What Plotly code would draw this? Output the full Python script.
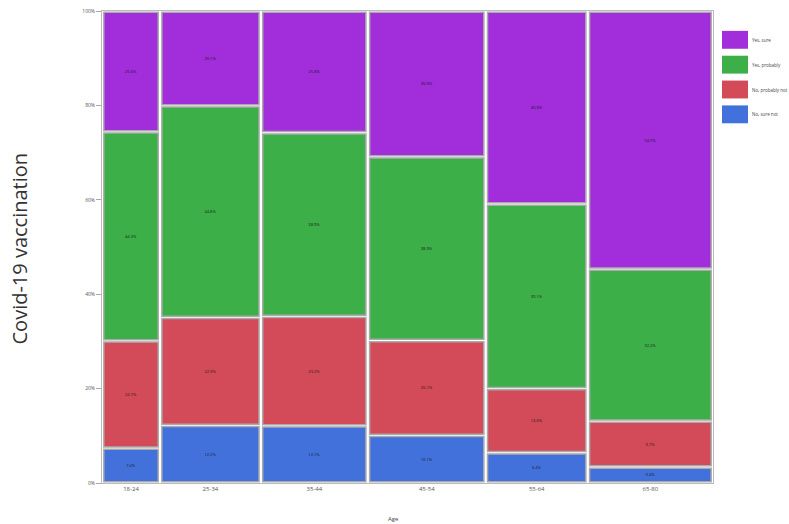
import plotly.graph_objects as go
import numpy as np

ages = ["18-24", "25-34", "35-44", "45-54", "55-64", "65-80"]
respondents = [95, 165, 175, 193, 167, 205]  # column widths (share of respondents)

series_names = ["No, sure not", "No, probably not", "Yes, probably", "Yes, sure"]
no_sure_not = [7.4, 12.2, 12.1, 10.1, 6.4, 3.4]
no_probably_not = [22.7, 22.9, 23.2, 20.1, 13.6, 9.7]
yes_probably = [44.3, 44.8, 38.9, 38.9, 39.1, 32.2]
yes_sure = [25.6, 20.1, 25.8, 30.9, 40.9, 54.7]
colors = ["#4371db", "#d34a58", "#3daf48", "#a12ddb"]

values = [no_sure_not, no_probably_not, yes_probably, yes_sure]

w = np.array(respondents, dtype=float)
total = w.sum()
widths = w / total * 100
lefts = np.concatenate([[0], np.cumsum(widths)[:-1]])
centers = lefts + widths / 2

W, H = 789, 524
L, R, T, B = 102, 76, 8, 41
PW = W - L - R
PH = H - T - B

fig = go.Figure()
cum = np.zeros(len(ages))
gap_y = 0.5
gap_x = 0.6
for name, vals, col in zip(series_names, values, colors):
    v = np.array(vals)
    fig.add_trace(go.Bar(
        x=centers, y=v - gap_y, base=cum + gap_y / 2, width=widths - gap_x,
        name=name, marker=dict(color=col, line=dict(color="#aaaaaa", width=1.5)),
        text=[f"{x:.1f}%" for x in v], textposition="inside",
        insidetextanchor="middle", textangle=0,
        textfont=dict(size=4, color="#1a1a1a", family="Open Sans"),
        showlegend=False, hoverinfo="skip"))
    cum = cum + v

fig.update_layout(
    width=W, height=H, barmode="overlay",
    margin=dict(l=L, r=R, t=T, b=B),
    paper_bgcolor="white", plot_bgcolor="white",
    font=dict(family="Open Sans", color="#444"),
    xaxis=dict(range=[0, 100], tickvals=list(centers), ticktext=ages,
               tickfont=dict(size=6, color="#555"), showgrid=False, zeroline=False,
               showline=True, linecolor="#bbbbbb", mirror=True, ticks="", ticklen=0),
    yaxis=dict(range=[0, 100], tickvals=[0, 20, 40, 60, 80, 100],
               ticktext=["0%", "20%", "40%", "60%", "80%", "100%"],
               tickfont=dict(size=5, color="#555"), showgrid=False, zeroline=False,
               ticks="outside", ticklen=5, tickcolor="#aaaaaa",
               showline=True, linecolor="#bbbbbb", mirror=True),
    uniformtext=dict(minsize=4, mode="show"),
)

# axis titles
fig.add_annotation(text="Covid-19 vaccination", xref="paper", yref="paper",
                   x=-(L - 19) / PW, y=(H - B - 247) / PH, xanchor="center", yanchor="middle",
                   textangle=-90, showarrow=False,
                   font=dict(size=20, color="#333", family="Open Sans"))
fig.add_annotation(text="Age", xref="paper", yref="paper", x=(393 - L) / PW, y=0,
                   yanchor="middle", yshift=-(519 - 483), showarrow=False,
                   font=dict(size=6, color="#444"))

# legend (custom swatches)
leg_names = series_names[::-1]
leg_colors = colors[::-1]
for i, (nm, c) in enumerate(zip(leg_names, leg_colors)):
    top_px = 20 + i * 25
    y0 = 1 - top_px / PH
    y1 = 1 - (top_px + 18) / PH
    x0 = 1 + 9 / PW
    x1 = 1 + 35 / PW
    fig.add_shape(type="rect", xref="paper", yref="paper", x0=x0, x1=x1, y0=y1, y1=y0,
                  fillcolor=c, line=dict(width=0))
    fig.add_annotation(text=nm, xref="paper", yref="paper", x=1 + 37 / PW,
                       y=(y0 + y1) / 2, xanchor="left", yanchor="middle", showarrow=False,
                       font=dict(size=4.5, color="#444"))

fig.write_html("out.html", config={"displayModeBar": False},
               post_script="document.body.style.margin='0';")
